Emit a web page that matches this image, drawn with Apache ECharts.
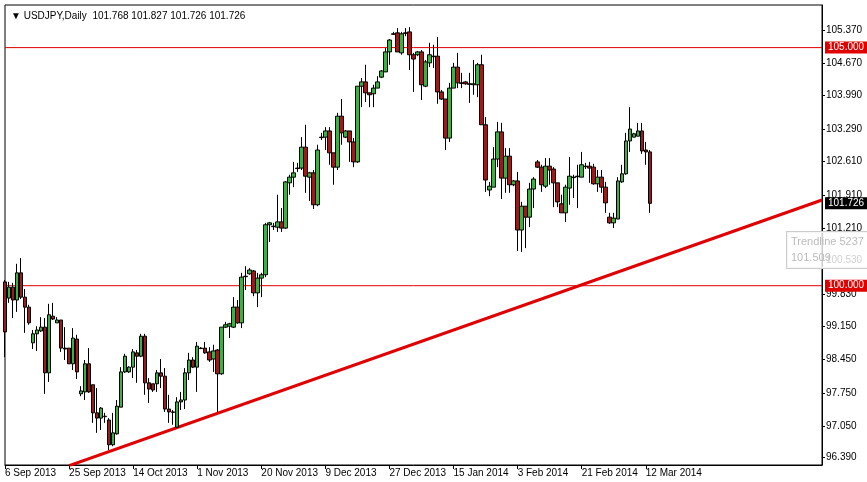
<!DOCTYPE html>
<html>
<head>
<meta charset="UTF-8">
<title>USDJPY Daily</title>
<script src="https://cdn.jsdelivr.net/npm/echarts@6/dist/echarts.min.js"></script>
<style>
  html, body { margin: 0; padding: 0; background: #fff; }
  #main { width: 867px; height: 482px; }
</style>
</head>
<body>
<div id="main"></div>
<script type="text/javascript">
// daily candles, 6 Sep 2013 .. 13 Mar 2014 (broker with Sunday bars)
var opens = [100.08,99.74,99.97,99.70,100.27,99.76,99.55,98.80,98.99,99.05,
  99.13,98.17,99.36,99.22,99.28,98.69,98.69,98.36,98.88,97.73,
  97.77,98.36,97.92,97.33,97.22,97.26,97.18,96.66,96.89,97.45,
  98.19,98.19,98.29,98.59,98.52,98.94,97.96,97.94,97.94,98.17,
  98.10,97.41,97.35,97.03,97.56,97.60,98.17,98.44,98.29,98.69,
  98.69,98.61,98.46,98.65,98.15,99.13,99.15,99.13,99.55,99.22,
  100.20,100.25,100.31,99.85,100.16,100.23,101.28,101.25,101.23,101.34,
  101.21,102.16,102.28,102.47,102.47,102.91,102.28,102.37,101.70,103.12,
  103.12,103.25,102.79,102.49,103.56,103.12,103.25,103.02,102.60,104.19,
  104.28,104.05,104.03,104.15,104.38,104.49,104.91,105.29,105.31,104.89,
  105.31,105.33,104.85,104.85,104.91,104.19,104.68,104.82,104.82,104.07,
  103.92,103.10,104.15,104.59,104.26,104.28,104.24,104.22,104.22,104.64,
  103.38,102.01,102.07,102.66,103.23,102.26,102.72,102.12,102.20,101.17,
  101.67,101.44,102.03,102.60,102.49,102.09,102.51,102.45,102.16,101.72,
  101.53,102.05,102.28,102.30,102.28,102.51,102.51,102.49,102.14,102.28,
  102.07,101.44,101.32,101.40,102.18,102.35,103.04,103.12,103.14,103.25,
  102.85,102.81];
var closes = [99.03,99.97,99.70,100.27,99.76,99.55,99.22,98.99,99.07,99.13,
  98.17,99.39,99.30,99.28,98.69,98.67,98.36,98.90,98.19,97.79,
  98.36,97.77,97.33,97.22,97.43,97.25,96.66,96.91,97.47,98.19,
  98.52,98.29,98.61,98.52,98.94,97.96,97.83,97.81,98.17,98.10,
  97.41,97.35,97.34,97.56,97.60,98.17,98.44,98.29,98.73,98.68,
  98.59,98.44,98.63,98.15,99.13,99.18,99.20,99.55,99.22,100.18,
  100.19,100.33,99.85,100.16,100.23,101.28,101.32,101.24,101.34,101.21,
  102.18,102.28,102.37,102.46,102.91,102.30,102.37,101.70,102.85,103.11,
  103.25,102.79,102.49,103.56,103.21,103.25,103.02,102.60,104.19,104.28,
  104.05,104.01,104.15,104.28,104.51,104.91,105.16,105.28,104.91,105.29,
  105.30,104.85,104.76,104.91,104.22,104.70,104.85,104.81,104.07,103.92,
  103.10,104.15,104.59,104.26,104.25,104.24,104.23,104.24,104.64,103.38,
  102.22,102.09,102.66,103.23,102.26,102.72,102.12,102.20,101.17,101.67,
  101.44,102.03,102.24,102.49,102.12,102.51,102.43,102.16,101.76,101.53,
  102.07,102.30,102.27,102.29,102.54,102.50,102.47,102.14,102.28,102.07,
  101.74,101.32,101.42,102.20,102.35,103.04,103.29,103.19,103.25,102.83,
  102.81,101.73];
var lows = [98.50,99.64,99.32,99.45,99.72,99.01,99.18,98.67,98.63,99.03,
  97.73,97.98,99.28,99.22,98.61,98.44,98.36,98.23,98.04,97.68,
  97.60,97.75,97.12,96.91,96.97,97.12,96.55,96.63,96.87,97.45,
  98.17,98.17,98.06,97.96,98.50,97.71,97.54,97.77,97.77,97.85,
  97.35,97.12,97.08,97.01,97.39,97.41,98.02,98.27,97.77,98.67,
  98.57,98.40,98.19,97.35,98.13,99.11,98.90,99.11,99.20,99.11,
  99.91,100.23,99.78,99.55,99.76,100.18,100.92,101.17,101.13,101.13,
  101.19,101.91,102.07,102.39,102.43,101.95,101.78,101.61,101.67,103.06,
  102.85,102.54,102.12,102.43,102.96,103.10,102.60,102.49,102.58,103.75,
  103.86,103.75,103.75,104.15,104.36,104.49,104.64,105.27,104.91,104.85,
  105.24,104.53,104.07,104.82,103.90,104.17,104.59,104.57,103.82,103.90,
  102.85,103.02,104.15,104.15,104.15,104.22,103.84,104.01,103.96,103.38,
  101.97,101.88,102.07,102.49,101.82,101.95,101.95,102.09,100.73,100.71,
  100.79,101.23,101.63,102.47,101.97,102.05,102.12,101.65,101.65,101.53,
  101.34,101.70,101.84,101.63,102.28,102.45,102.16,102.12,101.97,101.95,
  101.53,101.30,101.21,101.40,102.16,102.33,102.81,103.12,103.14,102.77,
  102.54,101.53];
var highs = [100.12,100.08,100.06,100.46,100.58,99.93,99.60,99.07,99.15,99.34,
  99.32,99.62,99.64,99.34,99.28,99.13,98.69,99.11,98.97,97.89,
  98.44,98.69,97.92,97.85,97.45,97.33,97.22,97.33,97.60,98.29,
  98.57,98.31,98.67,98.65,98.99,98.99,98.06,97.94,98.23,98.46,
  98.27,97.71,97.39,97.66,97.77,98.27,98.59,98.50,98.82,98.71,
  98.82,98.71,98.76,98.67,99.13,99.24,99.22,99.76,99.70,100.27,
  100.41,100.37,100.33,100.27,100.27,101.32,101.34,101.32,101.91,101.63,
  102.20,102.33,102.60,102.58,103.12,103.38,102.39,102.43,102.96,103.21,
  103.33,103.33,102.79,103.63,103.92,103.27,103.25,103.10,104.19,104.36,
  104.64,104.05,104.22,104.40,104.53,104.99,105.18,105.33,105.41,105.33,
  105.41,105.43,104.89,104.93,104.95,104.74,105.10,105.06,105.22,104.11,
  103.92,104.26,104.68,104.89,104.47,104.30,104.47,104.74,104.68,104.85,
  103.54,102.18,102.91,103.44,103.42,102.89,102.89,102.22,102.39,101.76,
  101.67,102.16,102.28,102.64,102.54,102.68,102.68,102.49,102.16,101.91,
  102.12,102.70,102.33,102.54,102.81,102.58,102.60,102.56,102.43,102.43,
  102.18,101.53,101.53,102.28,102.54,103.21,103.75,103.21,103.42,103.42,
  103.02,102.85];

// one label every 16 bars, starting at the first bar
var dateLabels = ['6 Sep 2013', '25 Sep 2013', '14 Oct 2013', '1 Nov 2013', '20 Nov 2013',
  '9 Dec 2013', '27 Dec 2013', '15 Jan 2014', '3 Feb 2014', '21 Feb 2014', '12 Mar 2014'];
var priceTicks = [96.39, 97.05, 97.75, 98.45, 99.15, 99.83, 100.53, 101.21, 101.91, 102.61, 103.29, 103.99, 104.67, 105.37];
var levels = [105.0, 100.0];
var lastPrice = 101.726;
var trendStart = [16, 96.22];
var trendEnd = [204, 101.80];

var totalSlots = 205;
var categories = [];
for (var i = 0; i < totalSlots; i++) {
    categories.push(i % 16 === 0 && dateLabels[i / 16] ? dateLabels[i / 16] : '');
}
var candles = opens.map(function (o, i) {
    return [o, closes[i], lows[i], highs[i]];
});
var hasLabel = function (idx, val) { return val !== ''; };

var fnt = 'Liberation Sans';
var red = '#e00000';
var lastIdx = totalSlots - 1;

function levelSeries(v) {
    return {
        type: 'line',
        data: [[0, v], [lastIdx, v]],
        symbol: 'none',
        silent: true,
        lineStyle: {color: red, width: 1},
        endLabel: {
            show: true, distance: 3,
            formatter: v.toFixed(3), color: '#fff', backgroundColor: red,
            padding: [1, 3], fontFamily: fnt, fontSize: 10
        },
        z: 1
    };
}

echarts.init(document.getElementById('main')).setOption({
    animation: false,
    backgroundColor: '#fff',
    title: {
        text: '\u25BC USDJPY,Daily  101.768 101.827 101.726 101.726',
        left: 6, top: 6,
        textStyle: {fontFamily: fnt, fontSize: 10, fontWeight: 'normal', color: '#000'}
    },
    graphic: [{
        type: 'text', left: 786, top: 231, z: 100,
        style: {
            text: 'Trendline 5237\n101.509', fill: '#bbb', font: '11px ' + fnt,
            lineHeight: 16, backgroundColor: 'rgba(255,255,255,0.8)',
            borderColor: '#ccc', borderWidth: 1, padding: [2, 4]
        }
    }],
    grid: {left: 5, right: 45, top: 5, bottom: 17, show: true, borderColor: '#000', borderWidth: 1},
    xAxis: {
        type: 'category',
        data: categories,
        boundaryGap: false,
        axisLine: {lineStyle: {color: '#000'}},
        axisTick: {interval: hasLabel, length: 4, lineStyle: {color: '#000'}},
        axisLabel: {
            interval: hasLabel, align: 'left', margin: 3, color: '#000',
            fontFamily: fnt, fontSize: 10
        },
        splitLine: {show: false}
    },
    yAxis: {
        type: 'value',
        position: 'right',
        min: 96.235,
        max: 105.895,
        axisLine: {show: true, lineStyle: {color: '#000'}},
        axisTick: {show: true, customValues: priceTicks, length: 3, lineStyle: {color: '#000'}},
        axisLabel: {
            customValues: priceTicks, margin: 4, color: '#000',
            fontFamily: fnt, fontSize: 10,
            formatter: function (v) { return v.toFixed(3); }
        },
        splitLine: {show: false}
    },
    series: [
        levelSeries(levels[0]),
        levelSeries(levels[1]),
        {
            type: 'line',
            data: [trendStart, trendEnd],
            symbol: 'none',
            silent: true,
            lineStyle: {color: red, width: 3},
            z: 1
        },
        {
            type: 'candlestick',
            data: candles,
            barWidth: 4,
            z: 3,
            itemStyle: {
                color: '#3cb043', color0: '#9b1b1b',
                borderColor: '#000', borderColor0: '#000', borderWidth: 1
            },
            markLine: {
                silent: true,
                symbol: 'none',
                animation: false,
                lineStyle: {color: 'rgba(0,0,0,0)'},
                data: [{
                    yAxis: lastPrice,
                    label: {
                        show: true, position: 'end', distance: 3,
                        formatter: lastPrice.toFixed(3), color: '#fff', backgroundColor: '#000',
                        padding: [1, 3], fontFamily: fnt, fontSize: 10
                    }
                }]
            }
        }
    ]
});
</script>
</body>
</html>
